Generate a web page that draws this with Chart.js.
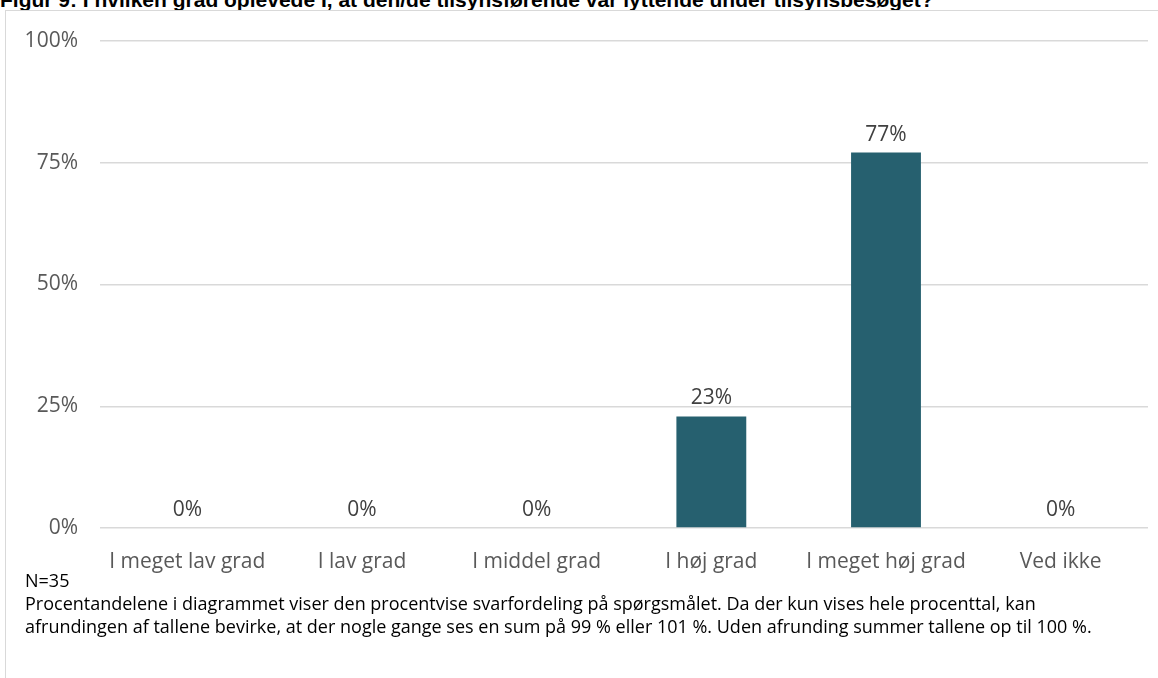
<!DOCTYPE html>
<html>
<head>
<meta charset="utf-8">
<script src="https://cdn.jsdelivr.net/npm/chart.js@4"></script>
<style>
    body { margin: 0; background: #fff; overflow: hidden; }
    #wrap { position: relative; width: 1158px; height: 678px; }
    #frame { position: absolute; left: 5px; top: 10px; width: 1160px; height: 700px; border-left: 1px solid #d9d9d9; border-top: 1px solid #d9d9d9; }
    #title { position: absolute; left: 0; top: -12px; font: bold 21px "Liberation Sans", Arial, sans-serif; color: #000; white-space: nowrap; }
    #chartBox { position: absolute; left: 0; top: 0; width: 1158px; height: 575px; }
    #note { position: absolute; left: 25px; top: 569px; font: 18px "Open Sans", sans-serif; color: #000; line-height: 23px; white-space: nowrap; }
</style>
</head>
<body>
<div id="wrap">
    <div id="title">Figur 9: I hvilken grad oplevede I, at den/de tilsynsførende var lyttende under tilsynsbesøget?</div>
    <div id="frame"></div>
    <div id="chartBox"><canvas id="barChart"></canvas></div>
    <div id="note">N=35<br>Procentandelene i diagrammet viser den procentvise svarfordeling på spørgsmålet. Da der kun vises hele procenttal, kan<br>afrundingen af tallene bevirke, at der nogle gange ses en sum på 99 % eller 101 %. Uden afrunding summer tallene op til 100 %.</div>
</div>
<script>
const categories = ["I meget lav grad", "I lav grad", "I middel grad", "I høj grad", "I meget høj grad", "Ved ikke"];
const shares = [0, 0, 0, 22.9, 77.1, 0];
const yTicks = [0, 25, 50, 75, 100];

const barLabels = {
    id: "barLabels",
    afterDatasetsDraw(chart) {
        const ctx = chart.ctx;
        const meta = chart.getDatasetMeta(0);
        ctx.save();
        ctx.font = "21px 'Open Sans', sans-serif";
        ctx.fillStyle = "#404040";
        ctx.textAlign = "center";
        ctx.textBaseline = "middle";
        meta.data.forEach((bar, i) => {
            ctx.fillText(Math.round(shares[i]) + "%", bar.x, bar.y - 18);
        });
        ctx.restore();
    }
};

function initChart() {
    const ctx = document.getElementById("barChart").getContext("2d");
    new Chart(ctx, {
        type: "bar",
        data: {
            labels: categories,
            datasets: [{
                data: shares,
                backgroundColor: "#26606f",
                categoryPercentage: 1,
                barPercentage: 0.4
            }]
        },
        options: {
            responsive: true,
            maintainAspectRatio: false,
            animation: false,
            layout: { padding: { top: 41, right: 10, left: 0, bottom: 0 } },
            plugins: { legend: { display: false }, tooltip: { enabled: false } },
            scales: {
                x: {
                    grid: { display: false, drawTicks: false },
                    border: { display: false },
                    ticks: { color: "#595959", font: { family: "Open Sans", size: 21 }, padding: 21, maxRotation: 0 },
                    afterFit: axis => { axis.height = 47; }
                },
                y: {
                    min: 0,
                    max: 100,
                    afterBuildTicks: axis => { axis.ticks = yTicks.map(v => ({ value: v })); },
                    grid: { color: "#d9d9d9", lineWidth: 1.5, drawTicks: false },
                    border: { display: false },
                    ticks: { color: "#595959", font: { family: "Open Sans", size: 21 }, padding: 22, callback: v => v + "%" },
                    afterFit: axis => { axis.width = 100; }
                }
            }
        },
        plugins: [barLabels]
    });
}

document.addEventListener("DOMContentLoaded", initChart);
</script>
</body>
</html>
